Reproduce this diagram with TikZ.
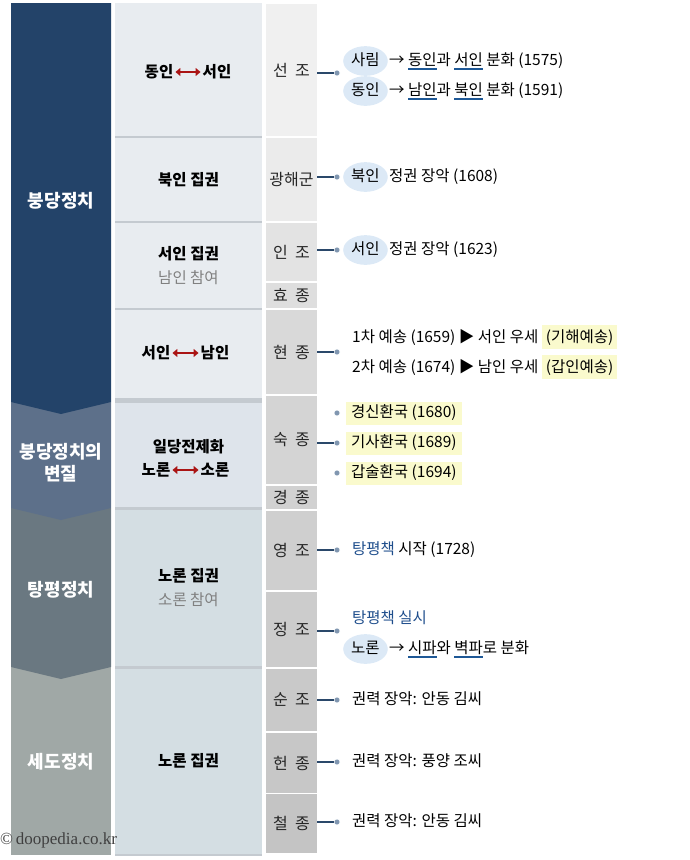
\documentclass[tikz,border=0pt]{standalone}
\usepackage{fontspec}
\setmainfont{Noto Sans CJK KR}
\newfontfamily\markfont{Liberation Serif}
\usetikzlibrary{arrows.meta}
\usetikzlibrary{shapes.geometric}
\definecolor{eraone}{RGB}{35,67,105}
\definecolor{eratwo}{RGB}{93,112,138}
\definecolor{erathree}{RGB}{106,120,129}
\definecolor{erafour}{RGB}{160,168,166}
\definecolor{partybg}{RGB}{232,236,240}
\definecolor{partybgb}{RGB}{222,228,235}
\definecolor{partybgc}{RGB}{212,222,227}
\definecolor{partyline}{RGB}{196,202,208}
\definecolor{linkblue}{RGB}{42,72,106}
\definecolor{dotblue}{RGB}{128,150,176}
\definecolor{hlblue}{RGB}{220,233,246}
\definecolor{ulblue}{RGB}{30,88,150}
\definecolor{hlyellow}{RGB}{250,250,205}
\definecolor{tangblue}{RGB}{31,78,140}
\definecolor{arrowred}{RGB}{170,20,20}
\newcommand{\partycolwidth}{147pt}
\newcommand{\kingcolwidth}{51pt}
\newcommand{\bluline}[1]{\setbox0\hbox{#1}\rlap{\color{ulblue}\rule[-4.5pt]{\wd0}{1.8pt}}\box0\relax}
\newcommand{\hlyel}[1]{{\fboxsep=4pt\colorbox{hlyellow}{#1}}}
\newcommand{\kgap}{\hspace{0.45em}}
\tikzstyle{party}=[fill=partybg, inner sep=0, minimum width=\partycolwidth, font=\fontsize{15.5}{24}\selectfont\bfseries, align=center]
\tikzstyle{partyword}=[inner sep=0, font=\fontsize{15.5}{24}\selectfont\bfseries]
\tikzstyle{king}=[inner sep=0, minimum width=\kingcolwidth, font=\fontsize{16}{18}\selectfont, text=black!85]
\tikzstyle{era}=[text=white, font=\fontsize{18}{22}\selectfont\bfseries, align=center]
\tikzstyle{item}=[inner sep=1pt, anchor=west, text height=11.5pt, text depth=3.5pt, font=\fontsize{15.5}{18}\selectfont]
\tikzstyle{hlword}=[item, ellipse, fill=hlblue, inner xsep=1.5pt, inner ysep=3pt]
\tikzstyle{ybox}=[item, fill=hlyellow, inner xsep=5pt, inner ysep=4pt]
\tikzstyle{dot}=[circle, fill=dotblue, draw=white, line width=0.6pt, inner sep=0, minimum size=6pt]
\tikzstyle{link}=[draw=linkblue, line width=1.8pt]
\tikzstyle{feud}=[draw=arrowred, line width=2.6pt, {Triangle[length=5pt,width=8pt]}-{Triangle[length=5pt,width=8pt]}, shorten <=2pt, shorten >=2pt]

\begin{document}
\begin{tikzpicture}[x=1pt, y=-1pt]
    \useasboundingbox (0, 0) rectangle (690, 860);
    % era column, lower blocks first
    \fill[erafour] (11, 667) rectangle (111, 855);
    \fill[erathree] (11, 508) -- (111, 508) -- (111, 667) -- (61, 679) -- (11, 667) -- cycle;
    \fill[eratwo] (11, 402) -- (111, 402) -- (111, 508) -- (61, 520) -- (11, 508) -- cycle;
    \fill[eraone] (11, 3) -- (111, 3) -- (111, 402) -- (61, 414) -- (11, 402) -- cycle;
    \node[era] (bungdang) at (61, 201) {붕당정치};
    \node[era] (byeonjil) at (61, 463) {붕당정치의\\변질};
    \node[era] (tangpyeong) at (61, 590) {탕평정치};
    \node[era] (sedo) at (61, 762) {세도정치};

    % party column
    \fill[partyline] (115, 3) rectangle (262, 856);
    \node[party, minimum height=133] (P1) at (188.5, 69.5) {};
    \node[party, minimum height=83] (P2) at (188.5, 179.5) {북인 집권};
    \node[party, minimum height=85] (P3) at (188.5, 265.5) {서인 집권\\{\color{black!50}\mdseries 남인 참여}};
    \node[party, minimum height=88] (P4) at (188.5, 354) {};
    \node[party, fill=partybgb, minimum height=104] (P5) at (188.5, 455) {};
    \node[party, fill=partybgc, minimum height=156] (P6) at (188.5, 588) {노론 집권\\{\color{black!50}\mdseries 소론 참여}};
    \node[party, fill=partybgc, minimum height=185] (P7) at (188.5, 761) {노론 집권};
    \node[partyword] (dongA) at (159, 72) {동인};
    \node[partyword] (seoA) at (217, 72) {서인};
    \draw[feud] (dongA) -- (seoA);
    \node[partyword] (seoB) at (156, 353) {서인};
    \node[partyword] (namB) at (215, 353) {남인};
    \draw[feud] (seoB) -- (namB);
    \node[partyword] (ildang) at (188.5, 447) {일당전제화};
    \node[partyword] (noC) at (156, 470) {노론};
    \node[partyword] (soC) at (215, 470) {소론};
    \draw[feud] (noC) -- (soC);

    % king column
    \node[king, fill=black!6, minimum height=132] (kSeonjo) at (291.5, 70) {선\kgap 조};
    \node[king, fill=black!8, minimum height=83] (kGwanghae) at (291.5, 179.5) {광해군};
    \node[king, fill=black!11, minimum height=58] (kInjo) at (291.5, 252) {인\kgap 조};
    \node[king, fill=black!13, minimum height=25] (kHyojong) at (291.5, 295.5) {효\kgap 종};
    \node[king, fill=black!15, minimum height=84] (kHyeonjong) at (291.5, 352) {현\kgap 종};
    \node[king, fill=black!17, minimum height=88] (kSukjong) at (291.5, 440) {숙\kgap 종};
    \node[king, fill=black!18, minimum height=23] (kGyeongjong) at (291.5, 497.5) {경\kgap 종};
    \node[king, fill=black!19, minimum height=79] (kYeongjo) at (291.5, 550.5) {영\kgap 조};
    \node[king, fill=black!20, minimum height=75] (kJeongjo) at (291.5, 629.5) {정\kgap 조};
    \node[king, fill=black!21, minimum height=62] (kSunjo) at (291.5, 700) {순\kgap 조};
    \node[king, fill=black!22, minimum height=60] (kHeonjong) at (291.5, 763) {헌\kgap 종};
    \node[king, fill=black!23, minimum height=59] (kCheoljong) at (291.5, 823.5) {철\kgap 종};

    % events
    \node[dot] (dSeonjo) at (337, 73) {};
    \draw[link] (kSeonjo.east |- dSeonjo) -- (dSeonjo);
    \node[hlword] (sarim) at (343, 61) {사림};
    \node[item] (sarimSplit) at (sarim.east) {→ \bluline{동인}과 \bluline{서인} 분화 (1575)};
    \node[hlword] (dongin) at (343, 91) {동인};
    \node[item] (donginSplit) at (dongin.east) {→ \bluline{남인}과 \bluline{북인} 분화 (1591)};

    \node[dot] (dGwanghae) at (337, 177) {};
    \draw[link] (kGwanghae.east |- dGwanghae) -- (dGwanghae);
    \node[hlword] (bugin) at (343, 177) {북인};
    \node[item] (buginRule) at (bugin.east) {정권 장악 (1608)};

    \node[dot] (dInjo) at (337, 250) {};
    \draw[link] (kInjo.east |- dInjo) -- (dInjo);
    \node[hlword] (seoin) at (343, 250) {서인};
    \node[item] (seoinRule) at (seoin.east) {정권 장악 (1623)};

    \node[dot] (dHyeonjong) at (337, 352) {};
    \draw[link] (kHyeonjong.east |- dHyeonjong) -- (dHyeonjong);
    \node[item] (yesongA) at (351, 338) {1차 예송 (1659) ▶ 서인 우세 \hlyel{(기해예송)}};
    \node[item] (yesongB) at (351, 368) {2차 예송 (1674) ▶ 남인 우세 \hlyel{(갑인예송)}};

    \node[dot] (dHwangukA) at (337, 413) {};
    \node[dot] (dSukjong) at (337, 443) {};
    \node[dot] (dHwangukC) at (337, 473) {};
    \draw[link] (kSukjong.east |- dSukjong) -- (dSukjong);
    \node[ybox] (hwangukA) at (346, 413) {경신환국 (1680)};
    \node[ybox] (hwangukB) at (346, 443) {기사환국 (1689)};
    \node[ybox] (hwangukC) at (346, 473) {갑술환국 (1694)};

    \node[dot] (dYeongjo) at (337, 550) {};
    \draw[link] (kYeongjo.east |- dYeongjo) -- (dYeongjo);
    \node[item] (tangStart) at (351, 550) {\textcolor{tangblue}{탕평책} 시작 (1728)};

    \node[dot] (dJeongjo) at (337, 631) {};
    \draw[link] (kJeongjo.east |- dJeongjo) -- (dJeongjo);
    \node[item] (tangDo) at (351, 619) {\textcolor{tangblue}{탕평책 실시}};
    \node[hlword] (noron) at (343, 649) {노론};
    \node[item] (noronSplit) at (noron.east) {→ \bluline{시파}와 \bluline{벽파}로 분화};

    \node[dot] (dSunjo) at (337, 700) {};
    \draw[link] (kSunjo.east |- dSunjo) -- (dSunjo);
    \node[item] (sedoA) at (351, 700) {권력 장악: 안동 김씨};
    \node[dot] (dHeonjong) at (337, 762) {};
    \draw[link] (kHeonjong.east |- dHeonjong) -- (dHeonjong);
    \node[item] (sedoB) at (351, 762) {권력 장악: 풍양 조씨};
    \node[dot] (dCheoljong) at (337, 822) {};
    \draw[link] (kCheoljong.east |- dCheoljong) -- (dCheoljong);
    \node[item] (sedoC) at (351, 822) {권력 장악: 안동 김씨};

    \node[anchor=west, inner sep=0, text=black!75, font=\markfont\fontsize{17}{18}\selectfont] (credit) at (0, 840) {\textcopyright\,doopedia.co.kr};
\end{tikzpicture}
\end{document}
